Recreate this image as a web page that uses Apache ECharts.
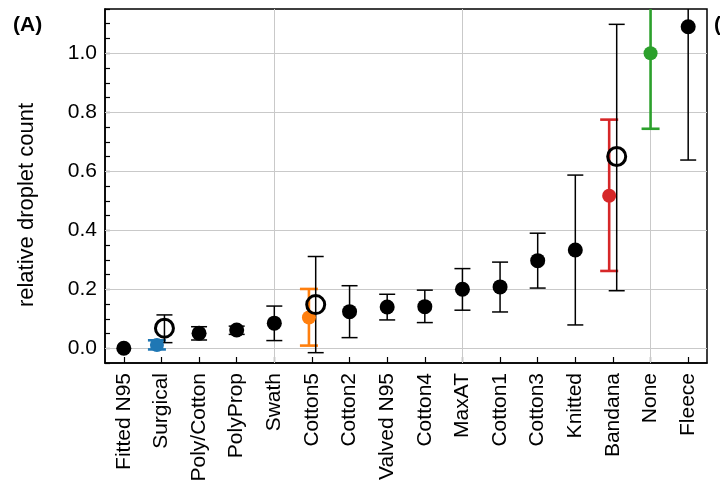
<!DOCTYPE html>
<html>
<head>
<meta charset="utf-8">
<script src="https://cdn.jsdelivr.net/npm/echarts@6/dist/echarts.min.js"></script>
<style>html,body{margin:0;padding:0;background:#fff;}#c{width:720px;height:490px;}</style>
</head>
<body>
<div id="c"></div>
<script>
// ---- data ----
const categories = ['Fitted N95','Surgical','Poly/Cotton','PolyProp','Swath','Cotton5','Cotton2','Valved N95','Cotton4','MaxAT','Cotton1','Cotton3','Knitted','Bandana','None','Fleece'];

// black filled markers
const solidCats = ['Fitted N95','Poly/Cotton','PolyProp','Swath','Cotton2','Valved N95','Cotton4','MaxAT','Cotton1','Cotton3','Knitted','Fleece'];
const solidMean = [0.000, 0.051, 0.062, 0.085, 0.124, 0.140, 0.141, 0.200, 0.208, 0.297, 0.333, 1.090];
const solidLow  = [null,  0.028, 0.047, 0.026, 0.036, 0.096, 0.087, 0.129, 0.123, 0.204, 0.079, 0.638];
const solidHigh = [null,  0.073, 0.075, 0.143, 0.212, 0.183, 0.197, 0.270, 0.292, 0.390, 0.587, 1.542];

// black open markers
const openCats = ['Surgical','Cotton5','Bandana'];
const openMean = [0.068, 0.148, 0.650];
const openLow  = [0.019, -0.015, 0.195];
const openHigh = [0.113, 0.311, 1.098];

// coloured markers
const colCats = ['Surgical','Cotton5','Bandana','None'];
const colMean = [0.011, 0.104, 0.517, 1.000];
const colLow  = [-0.004, 0.009, 0.262, 0.744];
const colHigh = [0.027, 0.201, 0.775, 1.256];

const yLabelValues = [0.0, 0.2, 0.4, 0.6, 0.8, 1.0];
const xGridCats = ['Swath','MaxAT','None'];

// ---- style ----
const colColors = ['#1f77b4', '#ff7f0e', '#d62728', '#2ca02c'];
const openDodge = [0.08, 0.10, 0.10];
const colDodge = [-0.12, -0.08, -0.10, 0];
const FONT = 'Liberation Sans, Arial, Helvetica, sans-serif';

const pos = c => categories.indexOf(c) + 1;

function errData(cats, low, high, dodge) {
  const out = [];
  cats.forEach((c, i) => {
    if (low[i] == null || high[i] == null) return;
    out.push([pos(c) + (dodge ? dodge[i] : 0), low[i], high[i], i]);
  });
  return out;
}
function ptData(cats, mean, dodge) {
  return cats.map((c, i) => [pos(c) + (dodge ? dodge[i] : 0), mean[i]]);
}
function errSeries(data, colorFn, lineW, capW, z) {
  return {
    type: 'custom', z: z, clip: true, silent: true,
    encode: { x: 0, y: [1, 2] },
    data: data,
    renderItem: function (params, api) {
      const x = api.value(0), lo = api.value(1), hi = api.value(2), idx = api.value(3);
      const a = api.coord([x, lo]), b = api.coord([x, hi]);
      const hw = capW / 2;
      const st = { stroke: colorFn(idx), lineWidth: lineW };
      return {
        type: 'group',
        children: [
          { type: 'line', shape: { x1: a[0], y1: a[1], x2: b[0], y2: b[1] }, style: st },
          { type: 'line', shape: { x1: a[0] - hw, y1: a[1], x2: a[0] + hw, y2: a[1] }, style: st },
          { type: 'line', shape: { x1: b[0] - hw, y1: b[1], x2: b[0] + hw, y2: b[1] }, style: st }
        ]
      };
    }
  };
}

const xTickVals = categories.map((c, i) => i + 1);
const yTickVals = [];
for (let k = -1; k <= 23; k++) yTickVals.push(Math.round(k * 5) / 100);

const chart = echarts.init(document.getElementById('c'), null, { renderer: 'canvas' });
chart.setOption({
  animation: false,
  backgroundColor: '#fff',
  grid: { left: 105, right: 13, top: 9, bottom: 127, show: true, borderColor: '#000', borderWidth: 1.5, backgroundColor: 'transparent' },
  xAxis: {
    type: 'value', min: 0.5, max: 16.5,
    splitLine: { show: false },
    axisLine: { show: true, onZero: false, lineStyle: { color: '#000', width: 1.5 } },
    axisTick: { show: true, inside: true, length: 6, customValues: xTickVals, lineStyle: { color: '#000', width: 1.2 } },
    axisLabel: {
      customValues: xTickVals, rotate: 90, margin: 10,
      fontSize: 21, fontFamily: FONT, color: '#000',
      formatter: v => categories[Math.round(v) - 1] || ''
    }
  },
  yAxis: {
    type: 'value', min: -0.05, max: 1.15,
    splitLine: { show: false },
    axisLine: { show: true, onZero: false, lineStyle: { color: '#000', width: 1.5 } },
    axisTick: { show: true, inside: true, length: 5, customValues: yTickVals, lineStyle: { color: '#000', width: 1.2 } },
    axisLabel: {
      customValues: yLabelValues, margin: 8,
      fontSize: 21, fontFamily: FONT, color: '#000',
      formatter: v => Number(v).toFixed(1)
    }
  },
  graphic: [
    { type: 'text', x: 13, y: 25, style: { text: '(A)', font: 'bold 21px ' + FONT, fill: '#000', align: 'left', verticalAlign: 'middle', textAlign: 'left', textVerticalAlign: 'middle' } },
    { type: 'text', x: 714, y: 25, style: { text: '(B)', font: 'bold 21px ' + FONT, fill: '#000', align: 'left', verticalAlign: 'middle', textAlign: 'left', textVerticalAlign: 'middle' } },
    { type: 'text', x: 27, y: 205, rotation: Math.PI / 2, style: { text: 'relative droplet count', font: '22px ' + FONT, fill: '#000', align: 'center', verticalAlign: 'middle', textAlign: 'center', textVerticalAlign: 'middle' } }
  ],
  series: [
    {
      type: 'scatter', data: [], z: 1, silent: true,
      markLine: {
        silent: true, symbol: ['none', 'none'], animation: false, z: 1,
        label: { show: false },
        lineStyle: { color: '#c9c9c9', width: 1, type: 'solid' },
        data: yLabelValues.map(v => ({ yAxis: v })).concat(xGridCats.map(c => ({ xAxis: pos(c) })))
      }
    },
    errSeries(errData(colCats, colLow, colHigh, colDodge), i => colColors[i], 2.6, 18, 10),
    errSeries(errData(solidCats, solidLow, solidHigh, null), () => '#000', 1.5, 16, 11),
    errSeries(errData(openCats, openLow, openHigh, openDodge), () => '#000', 1.5, 16, 11),
    {
      type: 'scatter', z: 12, silent: true, symbol: 'circle', symbolSize: 14,
      data: ptData(colCats, colMean, colDodge),
      itemStyle: { color: p => colColors[p.dataIndex], opacity: 1 }
    },
    {
      type: 'scatter', z: 13, silent: true, symbol: 'circle', symbolSize: 15,
      data: ptData(solidCats, solidMean, null),
      itemStyle: { color: '#000', opacity: 1 }
    },
    {
      type: 'scatter', z: 13, silent: true, symbol: 'circle', symbolSize: 18,
      data: ptData(openCats, openMean, openDodge),
      itemStyle: { color: 'rgba(0,0,0,0)', borderColor: '#000', borderWidth: 3, opacity: 1 }
    }
  ]
});
</script>
</body>
</html>
